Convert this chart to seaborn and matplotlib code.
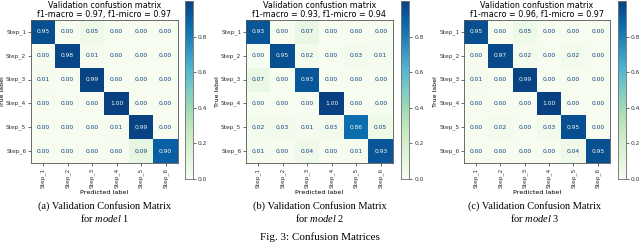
import numpy as np
import pandas as pd
import matplotlib
matplotlib.use("Agg")
import matplotlib.pyplot as plt
import seaborn as sns

steps = ["Step_1", "Step_2", "Step_3", "Step_4", "Step_5", "Step_6"]

cm_model1 = [
    [0.95, 0.00, 0.05, 0.00, 0.00, 0.00],
    [0.00, 0.98, 0.01, 0.00, 0.00, 0.00],
    [0.01, 0.00, 0.99, 0.00, 0.00, 0.00],
    [0.00, 0.00, 0.00, 1.00, 0.00, 0.00],
    [0.00, 0.00, 0.00, 0.01, 0.99, 0.00],
    [0.00, 0.00, 0.00, 0.00, 0.09, 0.90],
]
cm_model2 = [
    [0.93, 0.00, 0.07, 0.00, 0.00, 0.00],
    [0.00, 0.95, 0.02, 0.00, 0.03, 0.01],
    [0.07, 0.00, 0.93, 0.00, 0.00, 0.00],
    [0.00, 0.00, 0.00, 1.00, 0.00, 0.00],
    [0.02, 0.03, 0.01, 0.03, 0.86, 0.05],
    [0.01, 0.00, 0.04, 0.00, 0.01, 0.93],
]
cm_model3 = [
    [0.95, 0.00, 0.05, 0.00, 0.00, 0.00],
    [0.00, 0.97, 0.02, 0.00, 0.02, 0.00],
    [0.01, 0.00, 0.99, 0.00, 0.00, 0.00],
    [0.00, 0.00, 0.00, 1.00, 0.00, 0.00],
    [0.00, 0.02, 0.00, 0.03, 0.95, 0.00],
    [0.00, 0.00, 0.00, 0.00, 0.04, 0.95],
]
f1_macro = [0.97, 0.93, 0.96]
f1_micro = [0.97, 0.94, 0.97]
captions = ["(a)", "(b)", "(c)"]

plt.rcParams["mathtext.fontset"] = "custom"
plt.rcParams["mathtext.it"] = "Liberation Serif:italic"
plt.rcParams["mathtext.rm"] = "Liberation Serif"

cmap = plt.get_cmap("GnBu")
fig = plt.figure(figsize=(6.4, 2.5), dpi=100)

# axes boxes [heatmap left, width, colorbar left]
layout = [(0.048, 0.230, 0.289), (0.384, 0.230, 0.627), (0.725, 0.228, 0.966)]
cap_x = [0.164, 0.5, 0.836]

for i, cm in enumerate([cm_model1, cm_model2, cm_model3]):
    left, width, cleft = layout[i]
    ax = fig.add_axes([left, 0.348, width, 0.572])
    cax = fig.add_axes([cleft, 0.284, 0.0125, 0.712])
    df = pd.DataFrame(cm, index=steps, columns=steps)
    sns.heatmap(df, ax=ax, cbar_ax=cax, cmap="GnBu", vmin=0, vmax=1,
                annot=True, fmt=".2f", annot_kws={"fontsize": 4.3})
    vals = np.array(cm).ravel()
    for t, v in zip(ax.texts, vals):
        t.set_color(cmap(0.0) if v > 0.5 else cmap(1.0))
    for s in ax.spines.values():
        s.set_visible(True)
        s.set_color("#555555")
        s.set_linewidth(0.6)
    ax.tick_params(length=2, width=0.5, labelsize=4.2, pad=1.2, colors="#333333")
    ax.set_xticklabels(steps, rotation=90)
    ax.set_yticklabels(steps, rotation=0)
    ax.set_xlabel("Predicted label", fontsize=4.6, labelpad=1.5)
    ax.set_ylabel("True label", fontsize=4.5, labelpad=1.0)
    ax.set_title("Validation confustion matrix\nf1-macro = %.2f, f1-micro = %.2f"
                 % (f1_macro[i], f1_micro[i]), fontsize=5.8, pad=2, linespacing=1.05)
    cax.set_yticks([0.0, 0.2, 0.4, 0.6, 0.8])
    cax.tick_params(length=2, width=0.5, labelsize=4.2, pad=1.5, colors="#333333")
    for s in cax.spines.values():
        s.set_visible(True)
        s.set_color("#777777")
        s.set_linewidth(0.5)
    fig.text(cap_x[i], 0.176, captions[i] + " Validation Confusion Matrix",
             ha="center", va="center", fontsize=7.5, family="Liberation Serif")
    fig.text(cap_x[i], 0.128, "for $model$ %d" % (i + 1),
             ha="center", va="center", fontsize=7.5, family="Liberation Serif")

fig.text(0.5, 0.052, "Fig. 3: Confusion Matrices", ha="center", va="center",
         fontsize=8, family="Liberation Serif")

plt.savefig("out.png", dpi=100)
